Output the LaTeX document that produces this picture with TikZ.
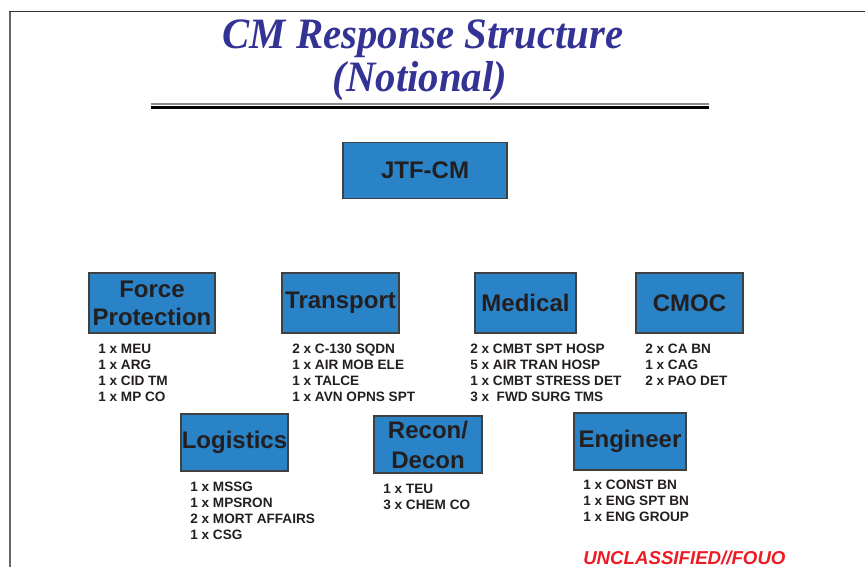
\documentclass[tikz,border=0pt]{standalone}
\usepackage{fontspec}
\setmainfont{Liberation Serif}
\setsansfont{Liberation Sans}
\newfontfamily\titlefont[FakeStretch=0.94]{Liberation Serif}
\usepackage{xcolor}
\usepackage{tikz}
\usetikzlibrary{positioning}

\definecolor{titleblue}{RGB}{51,51,150}
\definecolor{boxblue}{RGB}{42,130,199}
\definecolor{boxline}{RGB}{64,64,64}
\definecolor{inkblack}{RGB}{35,31,32}
\definecolor{classred}{RGB}{237,28,36}

\begin{document}
\begin{tikzpicture}[x=0.75pt, y=-0.75pt,
    unit/.style={draw=boxline, line width=1.1pt, fill=boxblue, align=center, inner sep=0pt,
                 text=inkblack, font=\sffamily\bfseries\fontsize{18}{21}\selectfont, minimum height=45pt},
    list/.style={anchor=north west, align=left, inner sep=0pt, text=inkblack,
                 font=\sffamily\bfseries\fontsize{10.2}{12}\selectfont},
    heading/.style={anchor=base, inner sep=0pt, text=titleblue,
                 font=\titlefont\bfseries\itshape\fontsize{32.5}{30}\selectfont}]
  \useasboundingbox (0,0) rectangle (865,567);

  % frame and title
  \draw[line width=1.5pt, black!60] (10,11) -- (10,567);
  \draw[line width=1.2pt, black!80] (9,11.5) -- (865,11.5);
  \node[heading] (T1) at (423,49) {CM Response Structure};
  \node[heading] (T2) at (420,92) {(Notional)};
  \draw[line width=1.1pt, black!45] (151,104) -- (709,104);
  \draw[line width=2.8pt, black] (151,107.5) -- (709,107.5);

  \node[unit, minimum width=123pt, minimum height=42pt] (JTF) at (425,170.5) {JTF-CM};

  \node[unit, minimum width=94.5pt]  (FP)   at (152,303)   {Force\\Protection};
  \node[unit, minimum width=87.75pt] (TR)   at (340.5,303) {Transport};
  \node[unit, minimum width=75.75pt] (MED)  at (525.5,303) {Medical};
  \node[unit, minimum width=80.25pt] (CMOC) at (689.5,303) {CMOC};

  \node[unit, minimum width=80.25pt, minimum height=42.75pt] (LOG) at (234.5,442.5) {Logistics};
  \node[unit, minimum width=81pt, minimum height=42.75pt, font=\sffamily\bfseries\fontsize{18}{22.5}\selectfont] (RD) at (428,444.5) {Recon/\\Decon};
  \node[unit, minimum width=84pt, minimum height=42.75pt] (ENG) at (630,441.5) {Engineer};

  % holdings
  \node[list] (FPL)   at (98,344)  {1 x MEU\\1 x ARG\\1 x CID TM\\1 x MP CO};
  \node[list] (TRL)   at (292,344) {2 x C-130 SQDN\\1 x AIR MOB ELE\\1 x TALCE\\1 x AVN OPNS SPT};
  \node[list] (MEDL)  at (470,344) {2 x CMBT SPT HOSP\\5 x AIR TRAN HOSP\\1 x CMBT STRESS DET\\3 x \ FWD SURG TMS};
  \node[list] (CMOCL) at (645,344) {2 x CA BN\\1 x CAG\\2 x PAO DET};
  \node[list] (LOGL)  at (190,482) {1 x MSSG\\1 x MPSRON\\2 x MORT AFFAIRS\\1 x CSG};
  \node[list] (RDL)   at (383,484) {1 x TEU\\3 x CHEM CO};
  \node[list] (ENGL)  at (583,480) {1 x CONST BN\\1 x ENG SPT BN\\1 x ENG GROUP};

  \node[anchor=base west, inner sep=0pt, text=classred, font=\sffamily\bfseries\itshape\fontsize{14}{16}\selectfont] (CLS) at (583,564) {UNCLASSIFIED//FOUO};
\end{tikzpicture}
\end{document}
